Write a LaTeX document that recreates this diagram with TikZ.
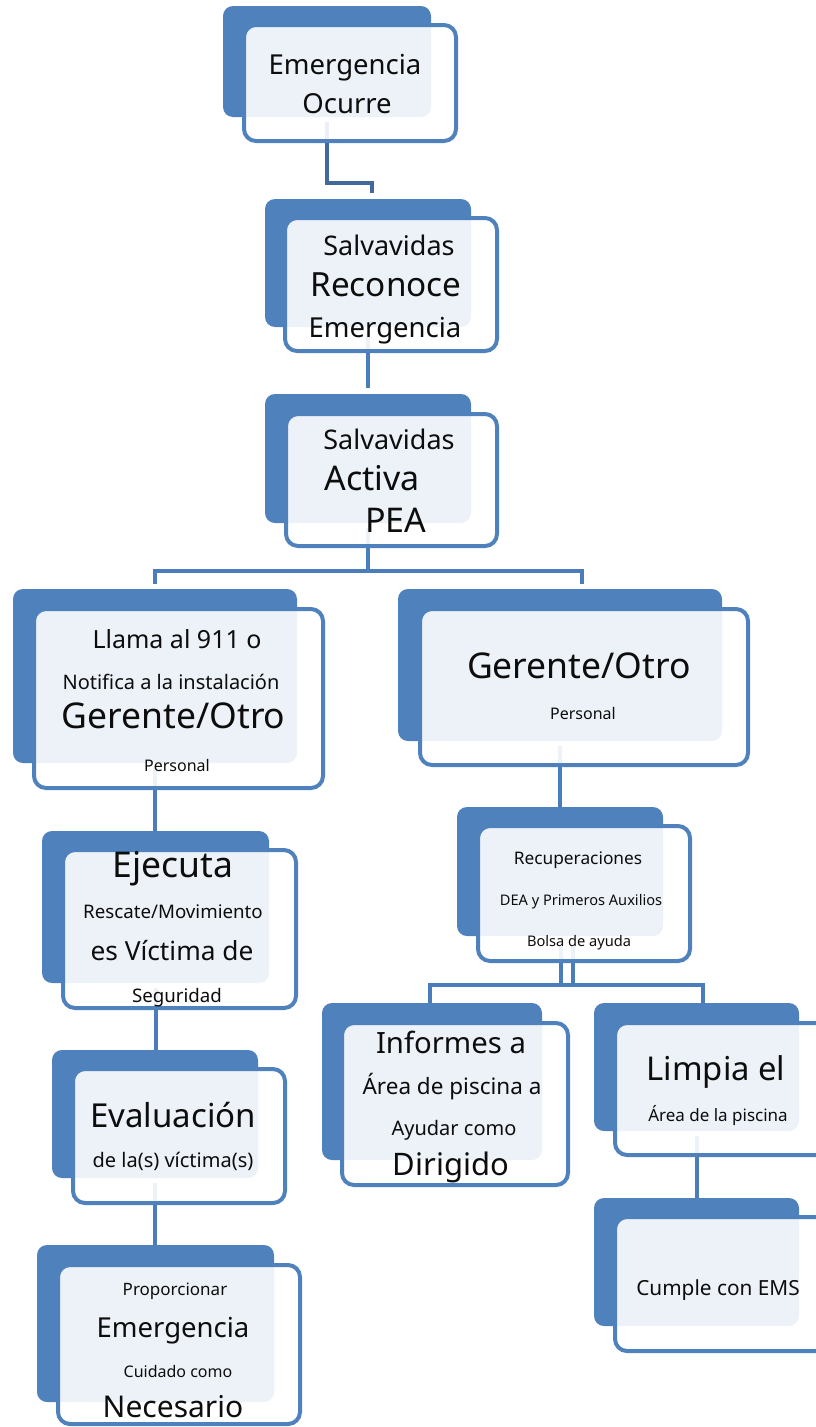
\documentclass[tikz,border=0pt]{standalone}
\usepackage{fontspec}
\setmainfont{Noto Sans}
\usetikzlibrary{fit,calc}
\pgfdeclarelayer{bg}
\pgfsetlayers{bg,main}
\definecolor{accent}{HTML}{4F81BD}
\definecolor{connA}{HTML}{4A7DBA}
\definecolor{connTop}{HTML}{41699C}
\definecolor{ink}{HTML}{0D0D0D}
\newcommand\fs[1]{\fontsize{#1}{#1}\selectfont}
\begin{document}
\begin{tikzpicture}[x=1pt,y=-1pt,
  backbox/.style={fill=accent, draw=none, rounded corners=10pt, inner sep=0pt, outer sep=0pt},
  frontbox/.style={fill=white, fill opacity=0.9, draw=accent, draw opacity=1, line width=4pt, rounded corners=12pt, inner sep=0pt, outer sep=0pt},
  conn/.style={draw=connA, line width=4pt},
  lbl/.style={anchor=base, inner sep=0pt, outer sep=0pt, text=ink}]
\useasboundingbox (0,0) rectangle (815,1427);

% ---------- boxes ----------
\node[backbox, fit={(223,6)(431,117)}] (b1) {};
\node[frontbox, fit={(244,25)(456,141)}] (f1) {};
\node[backbox, fit={(265,199)(471,327)}] (b2) {};
\node[frontbox, fit={(285,218)(497,351)}] (f2) {};
\node[backbox, fit={(265,394)(471,523)}] (b3) {};
\node[frontbox, fit={(286,414)(497,546)}] (f3) {};
\node[backbox, fit={(13,589)(297,763)}] (b4) {};
\node[frontbox, fit={(34,609)(323,788)}] (f4) {};
\node[backbox, fit={(398,589)(722,741)}] (b5) {};
\node[frontbox, fit={(420,609)(748,765)}] (f5) {};
\node[backbox, fit={(457,807)(663,936)}] (b6) {};
\node[frontbox, fit={(478,826)(690,961)}] (f6) {};
\node[backbox, fit={(42,831)(269,983)}] (bE) {};
\node[frontbox, fit={(63,850)(296,1008)}] (fE) {};
\node[backbox, fit={(52,1050)(258,1178)}] (bV) {};
\node[frontbox, fit={(73,1069)(285,1203)}] (fV) {};
\node[backbox, fit={(37,1245)(274,1402)}] (bP) {};
\node[frontbox, fit={(58,1265)(300,1424)}] (fP) {};
\node[backbox, fit={(322,1003)(542,1160)}] (b7) {};
\node[frontbox, fit={(342,1023)(568,1185)}] (f7) {};
\node[backbox, fit={(594,1003)(799,1131)}] (b8) {};
\node[frontbox, fit={(615,1023)(830,1155)}] (f8) {};
\node[backbox, fit={(594,1198)(799,1326)}] (b9) {};
\node[frontbox, fit={(615,1217)(830,1351)}] (f9) {};

% ---------- texts ----------
\node[lbl, font=\fs{27.5}] (t1a) at (345,74) {Emergencia};
\node[lbl, font=\fs{27.5}] (t1b) at (347,113) {Ocurre};

\node[lbl, font=\fs{27}] (t2a) at (389,255) {Salvavidas};
\node[lbl, font=\fs{33.3}] (t2b) at (386,296) {Reconoce};
\node[lbl, font=\fs{27.5}] (t2c) at (385,337) {Emergencia};

\node[lbl, font=\fs{27}] (t3a) at (389,449) {Salvavidas};
\node[lbl, font=\fs{34}] (t3b) at (372,490) {Activa};
\node[lbl, font=\fs{34}] (t3c) at (396,532) {PEA};

\node[lbl, font=\fs{25}] (t4a) at (177,648) {Llama al 911 o};
\node[lbl, font=\fs{20}] (t4b) at (171,689) {Notifica a la instalación};
\node[lbl, font=\fs{35.5}] (t4c) at (173.5,728) {Gerente/Otro};
\node[lbl, font=\fs{16}] (t4d) at (177,771) {Personal};

\node[lbl, font=\fs{35.5}] (t5a) at (579,678) {Gerente/Otro};
\node[lbl, font=\fs{16}] (t5b) at (583,719) {Personal};

\node[lbl, font=\fs{17.3}] (t6a) at (578,864) {Recuperaciones};
\node[lbl, font=\fs{14.6}] (t6b) at (581,905) {DEA y Primeros Auxilios};
\node[lbl, font=\fs{14.6}] (t6c) at (579,946) {Bolsa de ayuda};

\node[lbl, font=\fs{35.5}] (tEa) at (173,877) {Ejecuta};
\node[lbl, font=\fs{18.7}] (tEb) at (173,918) {Rescate/Movimiento};
\node[lbl, font=\fs{26.3}] (tEc) at (172,960) {es Víctima de};
\node[lbl, font=\fs{18.7}] (tEd) at (177,1002) {Seguridad};

\node[lbl, font=\fs{33}] (tVa) at (173,1127) {Evaluación};
\node[lbl, font=\fs{20}] (tVb) at (173,1167) {de la(s) víctima(s)};

\node[lbl, font=\fs{17}] (tPa) at (175,1295) {Proporcionar};
\node[lbl, font=\fs{27.5}] (tPb) at (173,1337) {Emergencia};
\node[lbl, font=\fs{16}] (tPc) at (178,1377) {Cuidado como};
\node[lbl, font=\fs{30}] (tPd) at (173,1417) {Necesario};

\node[lbl, font=\fs{29.3}] (t7a) at (451,1053) {Informes a};
\node[lbl, font=\fs{22.5}] (t7b) at (452,1094) {Área de piscina a};
\node[lbl, font=\fs{20}] (t7c) at (454,1135) {Ayudar como};
\node[lbl, font=\fs{31}] (t7d) at (451,1175) {Dirigido};

\node[lbl, font=\fs{32.8}] (t8a) at (716,1080) {Limpia el};
\node[lbl, font=\fs{17}] (t8b) at (718,1121) {Área de la piscina};

\node[lbl, font=\fs{20.8}] (t9a) at (718,1295) {Cumple con EMS};

% ---------- connectors ----------
\begin{pgfonlayer}{bg}
  \coordinate (j12) at (0,183);
  \coordinate (j3) at (0,571);
  \coordinate (j6) at (0,985);
  \coordinate (s1) at ($(b1.south)+(0,5)$);
  \coordinate (e2) at ($(b2.north)+(4,-6)$);
  \draw[conn, draw=connTop] (s1) -- (s1 |- j12) -| (e2);
  \coordinate (s2) at ($(b2.south)+(0,5)$);
  \coordinate (e3) at ($(b3.north)+(0,-6)$);
  \draw[conn] (s2) -- (s2 |- e3);
  \coordinate (s3) at ($(b3.south)+(0,5)$);
  \draw[conn] (s3) -- (s3 |- j3);
  \coordinate (e4) at ($(b4.north)+(0,-5)$);
  \coordinate (e5) at ($(f5.north |- b5.north)+(-2,-5)$);
  \draw[conn] (e4) -- (e4 |- j3) -| (e5);
  \coordinate (s4) at ($(b4.south)+(0,5)$);
  \draw[conn] (s4) -- (s4 |- bE.north);
  \coordinate (sE) at ($(bE.south)+(0,5)$);
  \draw[conn] (sE) -- (sE |- bV.north);
  \coordinate (sV) at ($(bV.south)+(0,5)$);
  \draw[conn] (sV) -- (sV |- bP.north);
  \coordinate (s5) at ($(b5.south)+(0,5)$);
  \draw[conn] (s5) -- (s5 |- b6.north);
  \coordinate (s6a) at ($(b6.south)+(1,10)$);
  \coordinate (s6b) at ($(b6.south)+(13,10)$);
  \draw[conn] (s6a) -- (s6a |- j6);
  \draw[conn] (s6b) -- (s6b |- j6);
  \coordinate (e7) at ($(b7.north)+(-2,0)$);
  \coordinate (e8) at ($(b8.north)+(6,0)$);
  \draw[conn] (e7) -- (e7 |- j6) -| (e8);
  \coordinate (s8) at ($(b8.south)+(0,5)$);
  \draw[conn] (s8) -- (s8 |- b9.north);
\end{pgfonlayer}
\end{tikzpicture}
\end{document}
